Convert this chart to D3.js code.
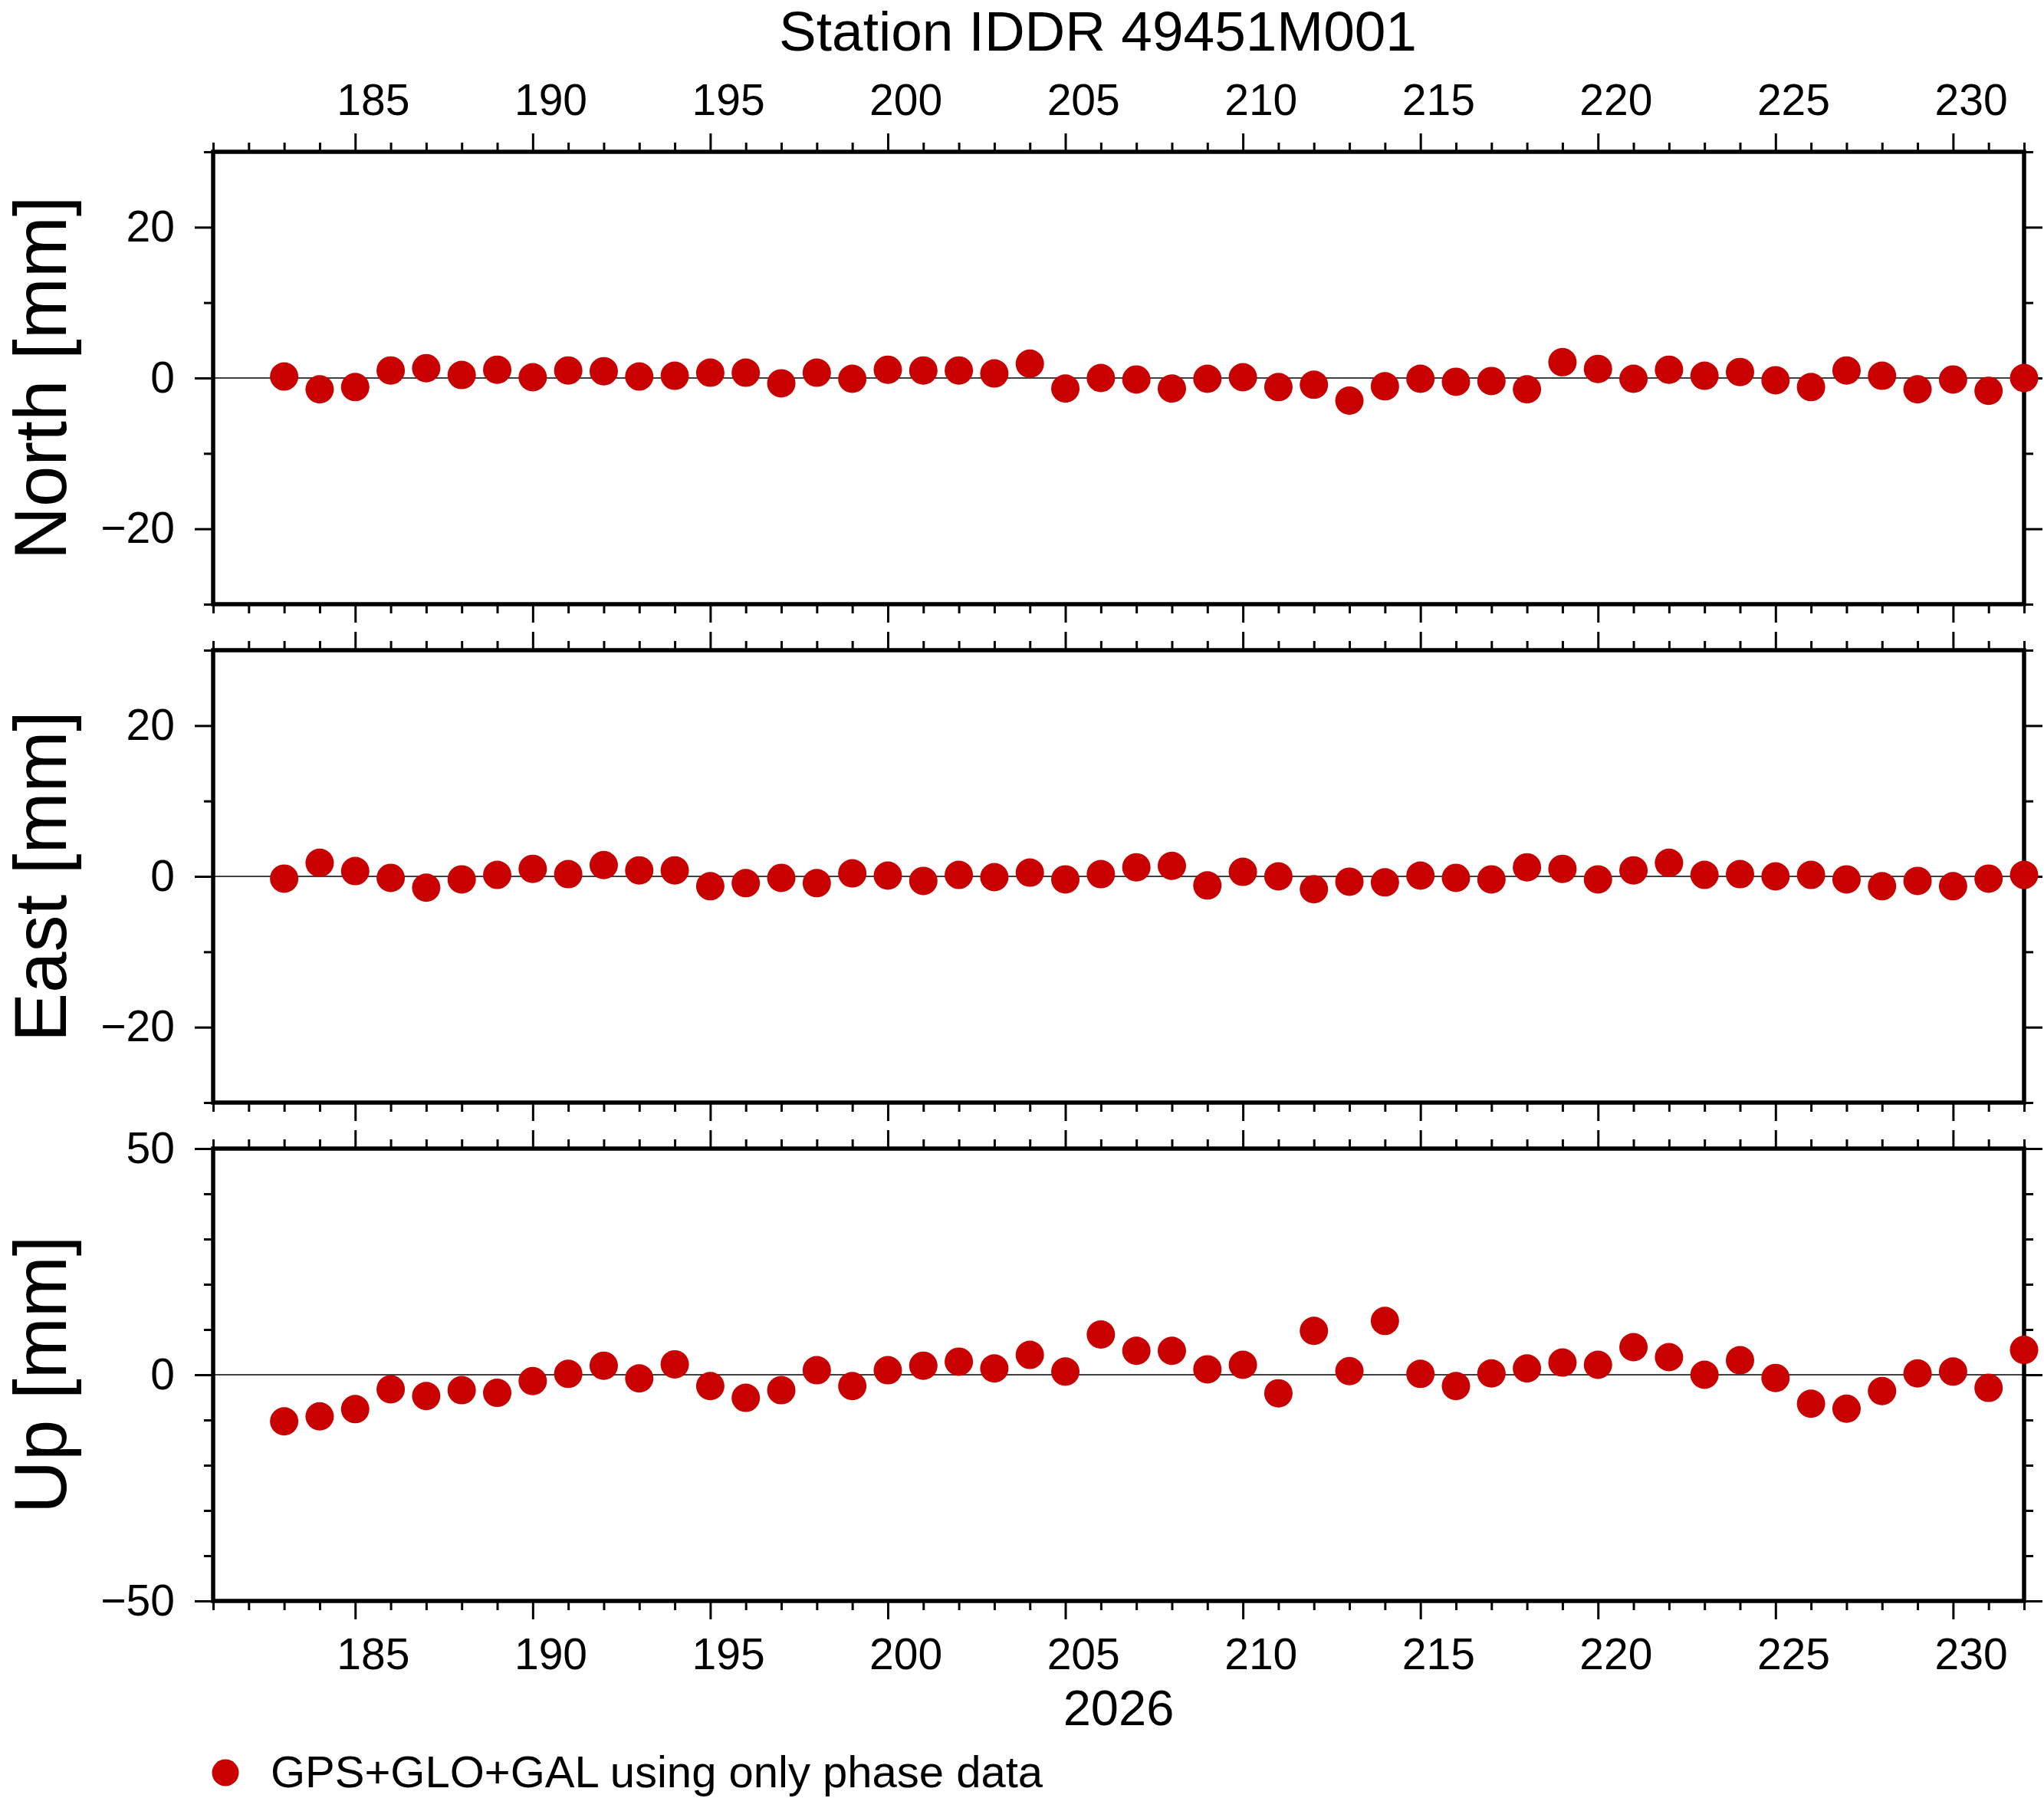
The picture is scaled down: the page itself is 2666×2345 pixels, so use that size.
<!DOCTYPE html>
<html>
<head>
<meta charset="utf-8">
<script src="https://cdn.jsdelivr.net/npm/d3@7"></script>
<style>
  body { margin: 0; background: #fff; }
  text { font-family: "Liberation Sans", Arial, Helvetica, sans-serif; }
</style>
</head>
<body>
<div id="container"></div>
<script>
// day of year 2026
const days = [183, 184, 185, 186, 187, 188, 189, 190, 191, 192,
              193, 194, 195, 196, 197, 198, 199, 200, 201, 202,
              203, 204, 205, 206, 207, 208, 209, 210, 211, 212,
              213, 214, 215, 216, 217, 218, 219, 220, 221, 222,
              223, 224, 225, 226, 227, 228, 229, 230, 231, 232];

const north = [0.2, -1.5, -1.2, 1.0, 1.3, 0.4, 1.1, 0.1, 1.0, 0.9,
               0.2, 0.3, 0.7, 0.7, -0.7, 0.7, -0.1, 1.1, 1.0, 1.0,
               0.6, 1.9, -1.4, 0.0, -0.2, -1.4, -0.1, 0.1, -1.2, -0.9,
               -3.0, -1.1, -0.1, -0.5, -0.4, -1.5, 2.1, 1.2, -0.1, 1.1,
               0.3, 0.8, -0.3, -1.2, 1.0, 0.3, -1.5, -0.2, -1.7, 0.0];

const east = [-0.3, 1.8, 0.7, -0.2, -1.5, -0.4, 0.2, 1.0, 0.3, 1.5,
              0.8, 0.8, -1.3, -0.9, -0.2, -0.9, 0.4, 0.1, -0.6, 0.2,
              -0.1, 0.5, -0.4, 0.3, 1.2, 1.4, -1.2, 0.6, 0.0, -1.7,
              -0.7, -0.8, 0.1, -0.2, -0.4, 1.2, 1.0, -0.4, 0.8, 1.8,
              0.2, 0.3, 0.0, 0.2, -0.4, -1.3, -0.6, -1.3, -0.3, 0.2];

const up = [-10.3, -9.2, -7.6, -3.2, -4.7, -3.4, -4.0, -1.4, 0.2, 2.0,
            -0.8, 2.3, -2.5, -5.1, -3.4, 1.0, -2.5, 1.0, 2.0, 2.9,
            1.4, 4.4, 0.7, 8.9, 5.3, 5.3, 1.2, 2.2, -4.1, 9.7,
            0.8, 11.9, 0.2, -2.5, 0.3, 1.4, 2.7, 2.2, 6.1, 3.9,
            0.0, 3.2, -0.7, -6.4, -7.5, -3.6, 0.3, 0.7, -2.9, 5.5];

const xMajor = [185, 190, 195, 200, 205, 210, 215, 220, 225, 230];
const panelLabels = ["North [mm]", "East [mm]", "Up [mm]"];
const panelDomains = [[-30, 30], [-30, 30], [-50, 50]];
const panelMajor = [[-20, 0, 20], [-20, 0, 20], [-50, 0, 50]];
const panelMinor = [[-30, -10, 10, 30], [-30, -10, 10, 30],
                    [-40, -30, -20, -10, 10, 20, 30, 40]];

const title = "Station IDDR 49451M001";
const yearLabel = "2026";
const legendLabel = "GPS+GLO+GAL using only phase data";

const width = 2666, height = 2345;
const left = 278, right = 2640;
const panelTops = [198, 848, 1498];
const panelH = 590;
const red = "#c80000";
const majorLen = 24, minorLen = 12;

const svg = d3.select("#container").append("svg")
    .attr("width", width)
    .attr("height", height)
    .style("background", "#fff");

const x = d3.scaleLinear().domain([181, 232]).range([left, right]);
const xMinor = d3.range(181, 233).filter(d => d % 5 !== 0);
const labelShift = x(181.5) - x(181);   // GMT puts day labels mid-interval

function styleAxis(g, fontSize) {
    g.select(".domain").remove();
    g.selectAll(".tick line").attr("stroke", "#000").attr("stroke-width", 3);
    g.selectAll(".tick text")
        .attr("fill", "#000")
        .style("font-size", fontSize + "px");
}

const data = days.map((d, i) => ({ day: d, v: [north[i], east[i], up[i]] }));

panelTops.forEach((top, p) => {
    const y = d3.scaleLinear().domain(panelDomains[p]).range([top + panelH, top]);
    const g = svg.append("g");
    const bottom = top + panelH;

    // x ticks, top and bottom
    const topMajor = g.append("g").attr("transform", `translate(0,${top})`)
        .call(d3.axisTop(x).tickValues(xMajor).tickSize(majorLen).tickPadding(24)
            .tickFormat(p === 0 ? d3.format("d") : ""));
    styleAxis(topMajor, 57);
    topMajor.selectAll(".tick text").attr("x", labelShift);
    styleAxis(g.append("g").attr("transform", `translate(0,${top})`)
        .call(d3.axisTop(x).tickValues(xMinor).tickSize(minorLen).tickFormat("")), 57);

    const botMajor = g.append("g").attr("transform", `translate(0,${bottom})`)
        .call(d3.axisBottom(x).tickValues(xMajor).tickSize(majorLen).tickPadding(25)
            .tickFormat(p === 2 ? d3.format("d") : ""));
    styleAxis(botMajor, 57);
    botMajor.selectAll(".tick text").attr("x", labelShift);
    styleAxis(g.append("g").attr("transform", `translate(0,${bottom})`)
        .call(d3.axisBottom(x).tickValues(xMinor).tickSize(minorLen).tickFormat("")), 57);

    // y ticks, left and right
    styleAxis(g.append("g").attr("transform", `translate(${left},0)`)
        .call(d3.axisLeft(y).tickValues(panelMajor[p]).tickSize(majorLen).tickPadding(26)
            .tickFormat(d3.format("d"))), 57);
    styleAxis(g.append("g").attr("transform", `translate(${left},0)`)
        .call(d3.axisLeft(y).tickValues(panelMinor[p]).tickSize(minorLen).tickFormat("")), 57);
    styleAxis(g.append("g").attr("transform", `translate(${right},0)`)
        .call(d3.axisRight(y).tickValues(panelMajor[p]).tickSize(majorLen).tickFormat("")), 57);
    styleAxis(g.append("g").attr("transform", `translate(${right},0)`)
        .call(d3.axisRight(y).tickValues(panelMinor[p]).tickSize(minorLen).tickFormat("")), 57);

    // zero line
    g.append("line")
        .attr("x1", left).attr("x2", right)
        .attr("y1", y(0)).attr("y2", y(0))
        .attr("stroke", "#000").attr("stroke-width", 1.5);

    // frame
    g.append("rect")
        .attr("x", left).attr("y", top)
        .attr("width", right - left).attr("height", panelH)
        .attr("fill", "none").attr("stroke", "#000").attr("stroke-width", 5.5);

    // points
    g.selectAll("circle.pt").data(data).join("circle")
        .attr("class", "pt")
        .attr("cx", d => x(d.day))
        .attr("cy", d => y(d.v[p]))
        .attr("r", 18.5)
        .attr("fill", red);

    // y label
    g.append("text")
        .attr("transform", `translate(86,${top + panelH / 2}) rotate(-90)`)
        .attr("text-anchor", "middle")
        .style("font-size", "96px")
        .text(panelLabels[p]);
});

// title
svg.append("text")
    .attr("x", 1432).attr("y", 66)
    .attr("text-anchor", "middle")
    .style("font-size", "73px")
    .text(title);

// year label
svg.append("text")
    .attr("x", (left + right) / 2).attr("y", 2250)
    .attr("text-anchor", "middle")
    .style("font-size", "65px")
    .text(yearLabel);

// legend
svg.append("circle")
    .attr("cx", 294).attr("cy", 2312).attr("r", 17.5)
    .attr("fill", red);
svg.append("text")
    .attr("x", 353).attr("y", 2331)
    .style("font-size", "58px")
    .text(legendLabel);
</script>
</body>
</html>
